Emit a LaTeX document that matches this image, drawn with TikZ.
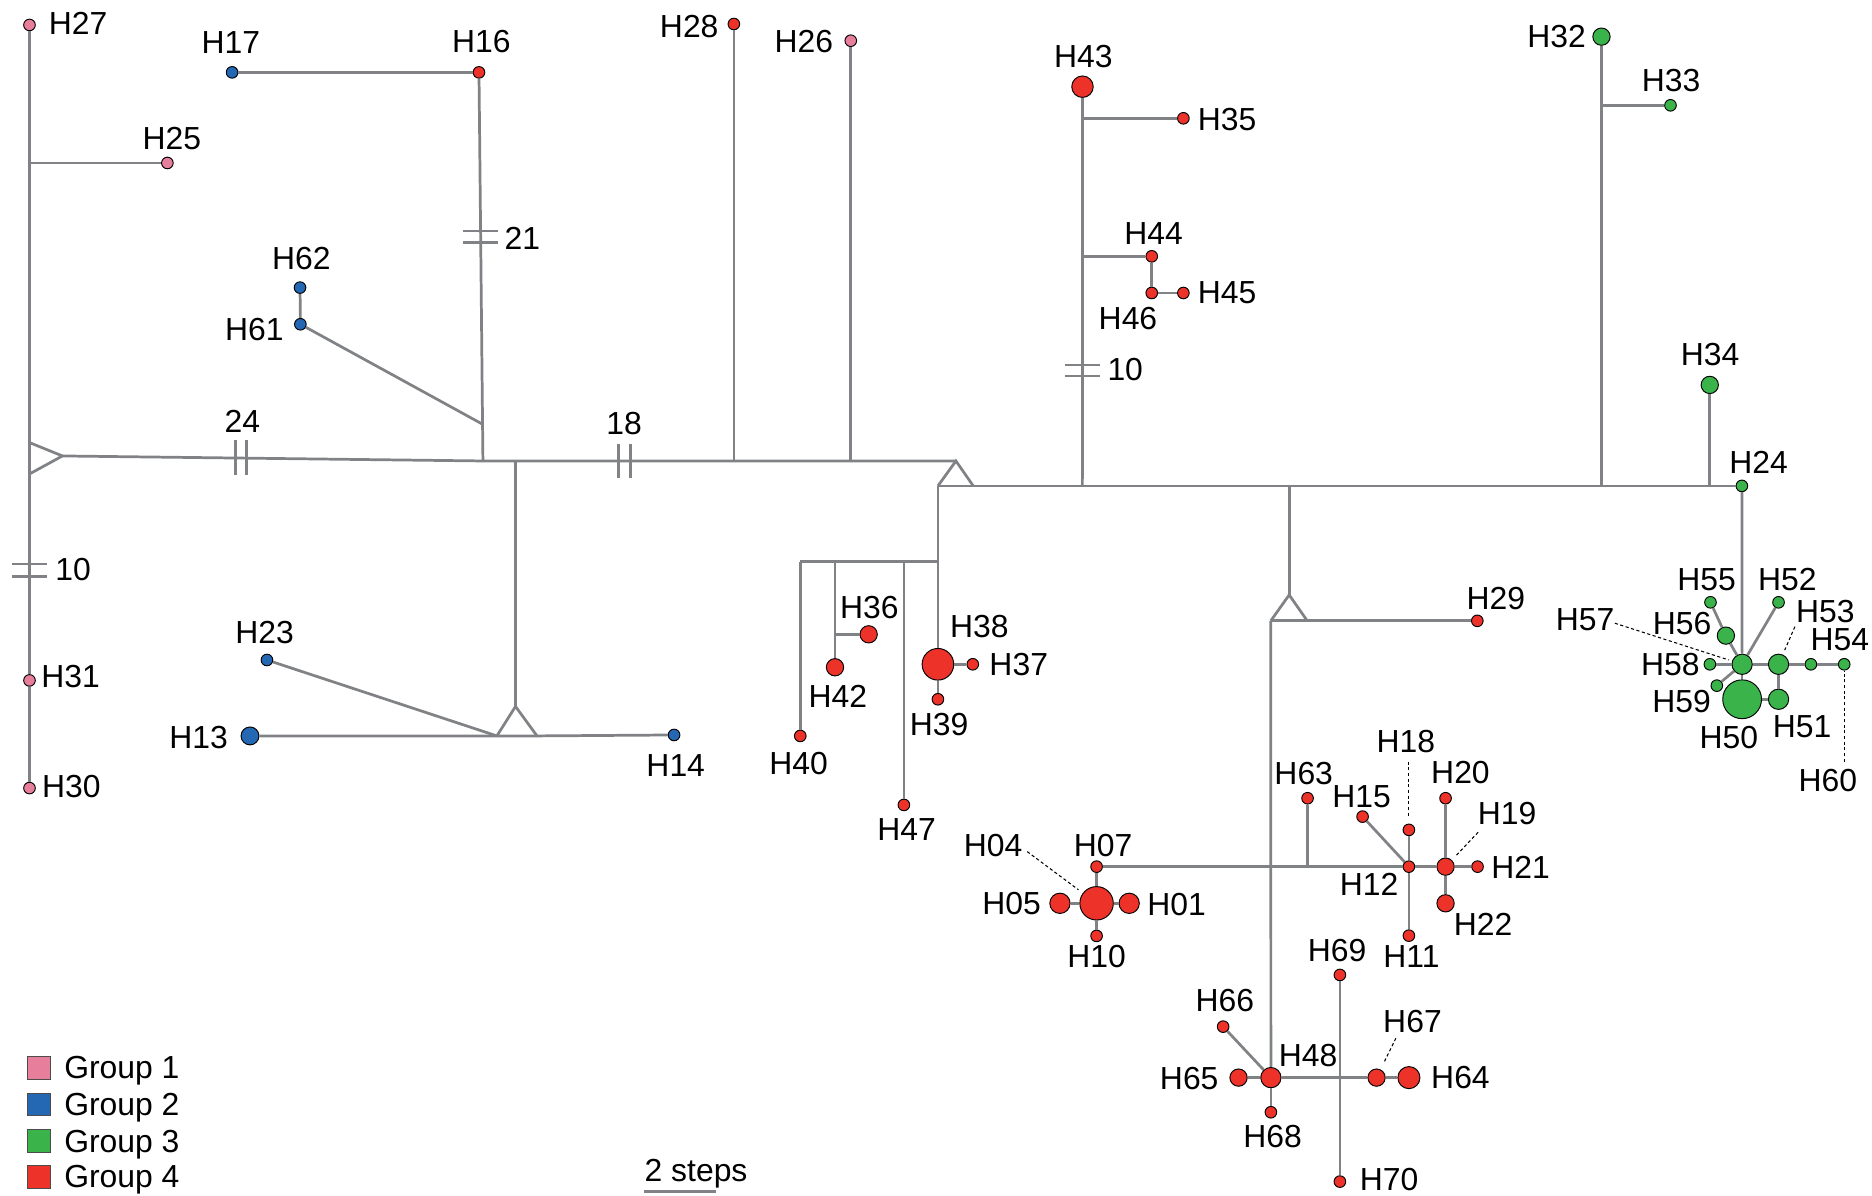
\documentclass[tikz,border=0pt]{standalone}
\usepackage{fontspec}
\setmainfont{Liberation Sans}

\definecolor{grpA}{RGB}{231,126,156}
\definecolor{grpB}{RGB}{36,103,178}
\definecolor{grpC}{RGB}{58,180,74}
\definecolor{grpD}{RGB}{237,50,42}
\definecolor{netgray}{RGB}{128,130,133}

\begin{document}
\begin{tikzpicture}[
    x=0.2mm, y=-0.2mm,
    hap/.style={circle, draw=black, line width=0.45pt, inner sep=0pt, minimum size=1.95mm},
    hm/.style={hap, minimum size=2.9mm},
    hl/.style={hap, minimum size=3.4mm},
    g1/.style={fill=grpA}, g2/.style={fill=grpB},
    g3/.style={fill=grpC}, g4/.style={fill=grpD},
    lab/.style={inner sep=0pt, font=\fontsize{15.2}{18}\selectfont},
    netline/.style={draw=netgray, line width=1.3pt},
    ptr/.style={draw=black, line width=0.5pt, dash pattern=on 1.5pt off 1.2pt},
    keybox/.style={draw=black!70, line width=0.4pt, minimum size=3.8mm, inner sep=0pt}
]
    \useasboundingbox (0,0) rectangle (1568,1001);

    % group 1
    \node[hap, g1] (H27) at (24.7,20.9) {};
    \node[hap, g1] (H25) at (140.2,136.5) {};
    \node[hap, g1] (H31) at (24.7,569.9) {};
    \node[hap, g1] (H30) at (24.7,660.1) {};
    \node[hap, g1] (H26) at (712.6,34.1) {};

    % group 2
    \node[hap, g2] (H17) at (194.4,60.6) {};
    \node[hap, g2] (H62) at (251.3,240.9) {};
    \node[hap, g2] (H61) at (251.6,271.6) {};
    \node[hap, g2] (H23) at (223.6,552.8) {};
    \node[hm, g2, minimum size=3mm] (H13) at (209.4,616.4) {};
    \node[hap, g2] (H14) at (564.6,615.6) {};

    % group 3
    \node[hm, g3] (H32) at (1341.4,30.7) {};
    \node[hap, g3] (H33) at (1399.2,88.2) {};
    \node[hm, g3] (H34) at (1432.1,322.4) {};
    \node[hap, g3] (H24) at (1459,407) {};
    \node[hl, g3] (H57) at (1459.2,556.4) {};
    \node[hl, g3] (H53) at (1489.7,556.4) {};
    \node[hap, g3] (H54) at (1516.8,556.4) {};
    \node[hap, g3] (H60) at (1544.7,556.4) {};
    \node[hap, g3] (H58) at (1432.2,556.4) {};
    \node[hap, g3] (H59) at (1438,574.3) {};
    \node[hap, g3, minimum size=6.5mm] (H50) at (1459.2,585.7) {};
    \node[hl, g3] (H51) at (1489.7,585.7) {};
    \node[hm, g3] (H56) at (1445.6,532.4) {};
    \node[hap, g3] (H55) at (1432.7,504.5) {};
    \node[hap, g3] (H52) at (1489.7,504.5) {};

    % group 4
    \node[hap, g4] (H16) at (401.2,60.6) {};
    \node[hap, g4] (H28) at (614.7,20.1) {};
    \node[hap, g4, minimum size=3.6mm] (H43) at (906.7,72.6) {};
    \node[hap, g4] (H35) at (991.2,99.1) {};
    \node[hap, g4] (H44) at (964.7,214.7) {};
    \node[hap, g4] (H46) at (964.7,245.4) {};
    \node[hap, g4] (H45) at (991.2,245.4) {};
    \node[hap, g4] (H29) at (1237.4,520) {};
    \node[hm, g4] (H36) at (727.6,531.3) {};
    \node[hm, g4] (H42) at (699.4,558.9) {};
    \node[hap, g4] (H40) at (670.3,616.4) {};
    \node[hap, g4] (H47) at (757.1,674.2) {};
    \node[hap, g4, minimum size=5.3mm] (H38) at (785.6,556.4) {};
    \node[hap, g4] (H37) at (814.8,556.4) {};
    \node[hap, g4] (H39) at (785.6,585.7) {};
    \node[hap, g4, minimum size=5.6mm] (H04) at (918.5,756.6) {};
    \node[hap, g4] (H07) at (918.5,725.9) {};
    \node[hl, g4] (H05) at (887.8,756.6) {};
    \node[hl, g4] (H01) at (945.8,756.6) {};
    \node[hap, g4] (H10) at (918.5,783.9) {};
    \node[hap, g4] (H63) at (1095.2,668.6) {};
    \node[hap, g4] (H15) at (1141.3,684) {};
    \node[hap, g4] (H18) at (1180.1,695.1) {};
    \node[hap, g4] (H12) at (1180.1,725.9) {};
    \node[hm, g4] (H19) at (1210.8,725.9) {};
    \node[hap, g4] (H20) at (1210.8,668.6) {};
    \node[hap, g4] (H21) at (1237.6,725.9) {};
    \node[hm, g4] (H22) at (1210.8,756.6) {};
    \node[hap, g4] (H11) at (1180.1,783.7) {};
    \node[hap, g4] (H69) at (1122.3,816.6) {};
    \node[hap, g4] (H70) at (1122.3,989.7) {};
    \node[hl, g4] (H48) at (1064.5,902.6) {};
    \node[hm, g4] (H65) at (1037.4,902.6) {};
    \node[hap, g4] (H66) at (1024.5,859.9) {};
    \node[hap, g4] (H68) at (1064.5,931.6) {};
    \node[hm, g4] (H67) at (1153,902.6) {};
    \node[hap, g4, minimum size=3.7mm] (H64) at (1180.1,902.6) {};

    % median vectors and joints
    \coordinate (ltA) at (24.7,370.7);
    \coordinate (ltB) at (52.3,381.9);
    \coordinate (ltC) at (24.7,397);
    \coordinate (j25) at (24.7,136.5);
    \coordinate (j16) at (404.5,386.1);
    \coordinate (j61) at (403.8,355.1);
    \coordinate (j13) at (431.8,386.1);
    \coordinate (btA) at (431.8,591.7);
    \coordinate (btB) at (416.2,616.4);
    \coordinate (btC) at (449.8,616.4);
    \coordinate (j28) at (614.7,386.1);
    \coordinate (j26) at (712.6,386.1);
    \coordinate (ctA) at (800.7,386.1);
    \coordinate (ctB) at (785.6,407);
    \coordinate (ctC) at (815.2,407);
    \coordinate (j43) at (906.6,407);
    \coordinate (j35) at (906.6,99.1);
    \coordinate (j44) at (906.6,214.7);
    \coordinate (j80) at (1079.8,407);
    \coordinate (rtA) at (1079.8,498.3);
    \coordinate (rtB) at (1064.4,520);
    \coordinate (rtC) at (1095,520);
    \coordinate (j32) at (1341.4,407);
    \coordinate (j33) at (1341.4,88.2);
    \coordinate (j34) at (1432.1,407);
    \coordinate (k38) at (785.6,470.4);
    \coordinate (k47) at (757.1,470.4);
    \coordinate (k42) at (699.4,470.4);
    \coordinate (k40) at (670.3,470.4);
    \coordinate (k36) at (699.4,531.3);
    \coordinate (j63) at (1095.2,725.9);

    % edges
    \draw[netline] (H27) -- (H31);
    \draw[netline] (H31) -- (H30);
    \draw[netline] (j25) -- (H25);
    \draw[netline, line join=miter] (ltA) -- (ltB) -- (ltC);
    \draw[netline] (ltB) -- (j16) -- (j13) -- (j28) -- (j26) -- (ctA);
    \draw[netline] (H17) -- (H16);
    \draw[netline] (H16) -- (j16);
    \draw[netline] (H62) -- (H61);
    \draw[netline] (H61) -- (j61);
    \draw[netline] (j13) -- (btA);
    \draw[netline] (btB) -- (btA) -- (btC);
    \draw[netline] (H13) -- (btB) -- (btC) -- (H14);
    \draw[netline] (H23) -- (btB);
    \draw[netline] (H28) -- (j28);
    \draw[netline] (H26) -- (j26);
    \draw[netline] (ctB) -- (ctA) -- (ctC);
    \draw[netline] (ctB) -- (j43) -- (j80) -- (j32) -- (j34) -- (H24);
    \draw[netline] (H43) -- (j43);
    \draw[netline] (j35) -- (H35);
    \draw[netline] (j44) -- (H44);
    \draw[netline] (H44) -- (H46);
    \draw[netline] (H46) -- (H45);
    \draw[netline] (H32) -- (j32);
    \draw[netline] (j33) -- (H33);
    \draw[netline] (H34) -- (j34);
    \draw[netline] (ctB) -- (H38);
    \draw[netline] (k40) -- (k38);
    \draw[netline] (k40) -- (H40);
    \draw[netline] (k42) -- (H42);
    \draw[netline] (k36) -- (H36);
    \draw[netline] (k47) -- (H47);
    \draw[netline] (H38) -- (H37);
    \draw[netline] (H38) -- (H39);
    \draw[netline] (j80) -- (rtA);
    \draw[netline] (rtB) -- (rtA) -- (rtC);
    \draw[netline] (rtB) -- (rtC) -- (H29);
    \draw[netline] (rtB) -- (H48);
    \draw[netline] (H07) -- (j63) -- (H12);
    \draw[netline] (j63) -- (H63);
    \draw[netline] (H04) -- (H07);
    \draw[netline] (H04) -- (H05);
    \draw[netline] (H04) -- (H01);
    \draw[netline] (H04) -- (H10);
    \draw[netline] (H12) -- (H18);
    \draw[netline] (H12) -- (H15);
    \draw[netline] (H12) -- (H11);
    \draw[netline] (H12) -- (H19);
    \draw[netline] (H19) -- (H20);
    \draw[netline] (H19) -- (H21);
    \draw[netline] (H19) -- (H22);
    \draw[netline] (H48) -- (H65);
    \draw[netline] (H48) -- (H66);
    \draw[netline] (H48) -- (H68);
    \draw[netline] (H48) -- (H67);
    \draw[netline] (H67) -- (H64);
    \draw[netline] (H69) -- (H70);
    \draw[netline] (H24) -- (H57);
    \draw[netline] (H57) -- (H56);
    \draw[netline] (H56) -- (H55);
    \draw[netline] (H57) -- (H52);
    \draw[netline] (H57) -- (H58);
    \draw[netline] (H57) -- (H59);
    \draw[netline] (H57) -- (H50);
    \draw[netline] (H57) -- (H53);
    \draw[netline] (H53) -- (H54);
    \draw[netline] (H54) -- (H60);
    \draw[netline] (H53) -- (H51);
    \draw[netline] (H50) -- (H51);

    % mutation hatches
    \coordinate (m24) at (201.7,383);
    \coordinate (m18) at (523.1,386.1);
    \coordinate (m21) at (402.6,198.2);
    \coordinate (m10a) at (906.6,310.3);
    \coordinate (m10b) at (24.7,477.8);
    \draw[netline] ([shift={(-4.7,-14.5)}]m24) -- ++(0,29) ([shift={(4.7,-14.5)}]m24) -- ++(0,29);
    \draw[netline] ([shift={(-4.9,-14.5)}]m18) -- ++(0,29) ([shift={(4.9,-14.5)}]m18) -- ++(0,29);
    \draw[netline] ([shift={(-14.4,-4.8)}]m21) -- ++(28.8,0) ([shift={(-14.4,4.8)}]m21) -- ++(28.8,0);
    \draw[netline] ([shift={(-14.4,-4.6)}]m10a) -- ++(28.8,0) ([shift={(-14.4,4.6)}]m10a) -- ++(28.8,0);
    \draw[netline] ([shift={(-14.4,-5.3)}]m10b) -- ++(28.8,0) ([shift={(-14.4,5.3)}]m10b) -- ++(28.8,0);
    \node[lab] (n24) at (203,353.2) {24};
    \node[lab] (n18) at (522.7,354.5) {18};
    \node[lab] (n21) at (437.5,199.6) {21};
    \node[lab] (n10a) at (942.5,309.9) {10};
    \node[lab] (n10b) at (61.2,477.1) {10};

    % pointers
    \coordinate (p04) at (860.4,713.3);
    \coordinate (p57) at (1352.6,522);
    \coordinate (p53) at (1503.4,524.9);
    \coordinate (p60) at (1544.7,638);
    \coordinate (p18) at (1180.1,637.9);
    \coordinate (p19) at (1238.1,697.1);
    \coordinate (p67) at (1169.2,869.6);
    \draw[ptr, shorten >=0.9mm] (p04) -- (H04);
    \draw[ptr, shorten >=0.6mm] (p57) -- (H57);
    \draw[ptr, shorten >=0.8mm] (p53) -- (H53);
    \draw[ptr] (p60) -- (H60);
    \draw[ptr, shorten >=1mm] (p18) -- (H18);
    \draw[ptr, shorten >=1.1mm] (p19) -- (H19);
    \draw[ptr, shorten >=1.1mm] (p67) -- (H67);

    % labels
    \node[lab] (t27) at (65.4,19.5) {H27};
    \node[lab] (t17) at (193.3,35.7) {H17};
    \node[lab] (t16) at (403.1,34.9) {H16};
    \node[lab] (t25) at (144,115.9) {H25};
    \node[lab] (t62) at (252.4,216.4) {H62};
    \node[lab] (t61) at (213.1,276.4) {H61};
    \node[lab] (t31) at (59.1,567) {H31};
    \node[lab] (t30) at (59.8,658.6) {H30};
    \node[lab] (t23) at (221.7,530) {H23};
    \node[lab] (t13) at (166.4,617.6) {H13};
    \node[lab] (t14) at (566,641.5) {H14};
    \node[lab] (t28) at (577.3,21.8) {H28};
    \node[lab] (t26) at (673.4,34.9) {H26};
    \node[lab] (t43) at (907.5,47.5) {H43};
    \node[lab] (t35) at (1027.8,99.9) {H35};
    \node[lab] (t44) at (966.2,195.4) {H44};
    \node[lab] (t46) at (944.8,267.2) {H46};
    \node[lab] (t45) at (1027.8,244.8) {H45};
    \node[lab] (t32) at (1303.8,30.2) {H32};
    \node[lab] (t33) at (1399.8,67.8) {H33};
    \node[lab] (t34) at (1432.4,297.3) {H34};
    \node[lab] (t24) at (1473,387.5) {H24};
    \node[lab] (t29) at (1253,501) {H29};
    \node[lab] (t36) at (728.2,508.7) {H36};
    \node[lab] (t42) at (701.7,582.9) {H42};
    \node[lab] (t40) at (668.9,639.3) {H40};
    \node[lab] (t47) at (759.4,695.1) {H47};
    \node[lab] (t38) at (820.3,524.8) {H38};
    \node[lab] (t37) at (853.3,557) {H37};
    \node[lab] (t39) at (786.6,607.2) {H39};
    \node[lab] (t04) at (831.9,708.5) {H04};
    \node[lab] (t07) at (924,708.5) {H07};
    \node[lab] (t05) at (847.3,756.6) {H05};
    \node[lab] (t01) at (985.5,758) {H01};
    \node[lab] (t10) at (918.5,801.2) {H10};
    \node[lab] (t63) at (1092,648.2) {H63};
    \node[lab] (t15) at (1140.4,667.2) {H15};
    \node[lab] (t18) at (1177.6,621.2) {H18};
    \node[lab] (t20) at (1223.3,647.1) {H20};
    \node[lab] (t19) at (1262.4,681.7) {H19};
    \node[lab] (t21) at (1273.6,726.4) {H21};
    \node[lab] (t12) at (1146.8,740.4) {H12};
    \node[lab] (t22) at (1242.3,773.9) {H22};
    \node[lab] (t11) at (1182.3,801.2) {H11};
    \node[lab] (t69) at (1120,796.2) {H69};
    \node[lab] (t70) at (1163.6,988.3) {H70};
    \node[lab] (t48) at (1095.7,884.4) {H48};
    \node[lab] (t65) at (996.1,903.1) {H65};
    \node[lab] (t66) at (1026,838.4) {H66};
    \node[lab] (t68) at (1065.9,952) {H68};
    \node[lab] (t67) at (1183.1,855.7) {H67};
    \node[lab] (t64) at (1223.3,902.6) {H64};
    \node[lab] (t55) at (1429.4,485.8) {H55};
    \node[lab] (t52) at (1497,485.8) {H52};
    \node[lab] (t53) at (1529,512.3) {H53};
    \node[lab] (t54) at (1541,536) {H54};
    \node[lab] (t57) at (1327.7,518.7) {H57};
    \node[lab] (t56) at (1409,522) {H56};
    \node[lab] (t58) at (1399,557) {H58};
    \node[lab] (t59) at (1408.5,587.7) {H59};
    \node[lab] (t50) at (1448,617.5) {H50};
    \node[lab] (t51) at (1509.5,608.6) {H51};
    \node[lab] (t60) at (1531,654) {H60};

    % legend
    \node[keybox, fill=grpA] (k1) at (32.7,894.2) {};
    \node[keybox, fill=grpB] (k2) at (32.7,925.1) {};
    \node[keybox, fill=grpC] (k3) at (32.7,955.8) {};
    \node[keybox, fill=grpD] (k4) at (32.7,985.6) {};
    \node[lab, anchor=base west] (tk1) at (53.5,903.4) {Group 1};
    \node[lab, anchor=base west] (tk2) at (53.5,934.3) {Group 2};
    \node[lab, anchor=base west] (tk3) at (53.5,965) {Group 3};
    \node[lab, anchor=base west] (tk4) at (53.5,994.8) {Group 4};

    % scale
    \node[lab, anchor=base west] (tsc) at (539.6,989.7) {2 steps};
    \coordinate (sbL) at (539.6,998);
    \coordinate (sbR) at (599.4,998);
    \draw[netline] (sbL) -- (sbR);
\end{tikzpicture}
\end{document}
